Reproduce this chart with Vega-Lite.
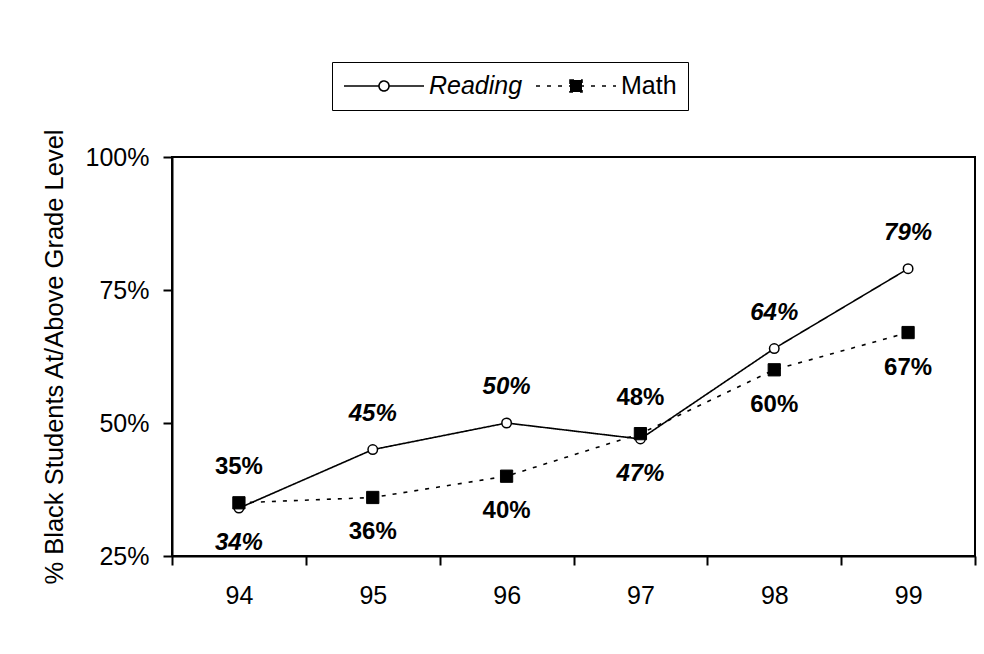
{
  "$schema": "https://vega.github.io/schema/vega-lite/v6.json",
  "autosize": {"type": "none"},
  "padding": {"left": 172, "top": 157, "right": 9, "bottom": 98},
  "width": 803,
  "height": 399,
  "background": "white",
  "config": {
    "font": "Liberation Sans",
    "view": {"stroke": "black", "strokeWidth": 2},
    "axis": {
      "domainColor": "black", "domainWidth": 2,
      "tickColor": "black", "tickWidth": 2, "tickSize": 9,
      "labelColor": "black", "labelFont": "Liberation Sans", "labelFontSize": 25,
      "titleColor": "black", "titleFont": "Liberation Sans", "titleFontSize": 25.5, "titleFontWeight": "normal",
      "grid": false
    }
  },
  "data": {
    "values": [
      {"year": 94, "subject": "Reading", "value": 0.34, "side": "below"},
      {"year": 95, "subject": "Reading", "value": 0.45, "side": "above"},
      {"year": 96, "subject": "Reading", "value": 0.50, "side": "above"},
      {"year": 97, "subject": "Reading", "value": 0.47, "side": "below"},
      {"year": 98, "subject": "Reading", "value": 0.64, "side": "above"},
      {"year": 99, "subject": "Reading", "value": 0.79, "side": "above"},
      {"year": 94, "subject": "Math", "value": 0.35, "side": "above"},
      {"year": 95, "subject": "Math", "value": 0.36, "side": "below"},
      {"year": 96, "subject": "Math", "value": 0.40, "side": "below"},
      {"year": 97, "subject": "Math", "value": 0.48, "side": "above"},
      {"year": 98, "subject": "Math", "value": 0.60, "side": "below"},
      {"year": 99, "subject": "Math", "value": 0.67, "side": "below"}
    ]
  },
  "encoding": {
    "x": {
      "field": "year", "type": "quantitative",
      "scale": {"domain": [93.5, 99.5], "nice": false, "zero": false},
      "axis": {
        "title": null,
        "values": [93.5, 94.5, 95.5, 96.5, 97.5, 98.5, 99.5],
        "labelExpr": "datum.value < 99 ? format(datum.value + 0.5, 'd') : ''",
        "labelOffset": 67,
        "labelPadding": 18,
        "labelOverlap": false,
        "labelBound": false,
        "labelFlush": false
      }
    },
    "y": {
      "field": "value", "type": "quantitative",
      "scale": {"domain": [0.25, 1], "nice": false, "zero": false},
      "axis": {
        "title": "% Black Students At/Above Grade Level",
        "values": [0.25, 0.5, 0.75, 1],
        "format": ".0%",
        "labelPadding": 14,
        "titlePadding": 18
      }
    }
  },
  "layer": [
    {
      "mark": {"type": "line", "color": "black", "strokeWidth": 1.6},
      "encoding": {
        "detail": {"field": "subject"},
        "strokeDash": {
          "field": "subject", "type": "nominal",
          "scale": {"domain": ["Reading", "Math"], "range": [[1, 0], [4, 7]]},
          "legend": {
            "title": null,
            "orient": "none",
            "direction": "horizontal",
            "legendX": 160,
            "legendY": -95,
            "fillColor": "white",
            "strokeColor": "black",
            "padding": 11,
            "symbolSize": 6400,
            "clipHeight": 26,
            "symbolStrokeWidth": 1.6,
            "symbolStrokeColor": "black",
            "labelFont": "Liberation Sans",
            "labelFontSize": 25,
            "labelColor": "black",
            "labelOffset": 4,
            "columnPadding": 12,
            "encode": {
              "symbols": {
                "update": {
                  "shape": {"signal": "datum.value === 'Reading' ? 'M-1,0H-0.125M0.125,0H1M-0.125,0A0.125,0.125,0,1,1,0.125,0A0.125,0.125,0,1,1,-0.125,0Z' : 'M-1,0H1M-0.15,-0.15H0.15V0.15H-0.15Z'"},
                  "size": {"value": 6400},
                  "fill": {"signal": "datum.value === 'Reading' ? 'white' : 'black'"},
                  "stroke": {"value": "black"},
                  "opacity": {"value": 1}
                }
              },
              "labels": {
                "update": {
                  "fontStyle": {"signal": "datum.value === 'Reading' ? 'italic' : 'normal'"}
                }
              }
            }
          }
        }
      }
    },
    {
      "transform": [{"filter": "datum.subject === 'Reading'"}],
      "mark": {"type": "point", "shape": "circle", "size": 90, "stroke": "black", "strokeWidth": 1.5, "fill": "white", "filled": true, "opacity": 1}
    },
    {
      "transform": [{"filter": "datum.subject === 'Math'"}],
      "mark": {"type": "point", "shape": "square", "size": 150, "stroke": "black", "strokeWidth": 1, "fill": "black", "filled": true, "opacity": 1}
    },
    {
      "mark": {
        "type": "text",
        "font": "Liberation Sans",
        "fontSize": 24,
        "fontWeight": "bold",
        "color": "black",
        "baseline": "middle",
        "fontStyle": {"expr": "datum.subject === 'Reading' ? 'italic' : 'normal'"},
        "dy": {"expr": "datum.side === 'above' ? -36 : 35"}
      },
      "encoding": {
        "text": {"field": "value", "type": "quantitative", "format": ".0%"}
      }
    }
  ]
}
